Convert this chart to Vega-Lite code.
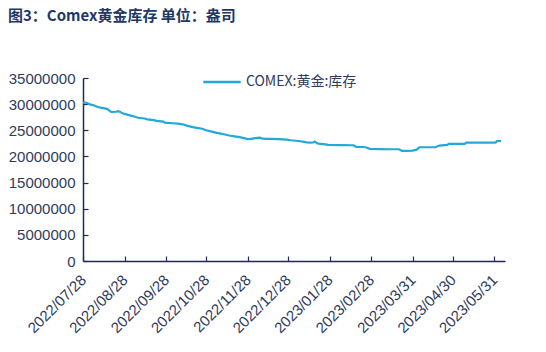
{
  "$schema": "https://vega.github.io/schema/vega-lite/v6.json",
  "width": 422,
  "height": 183,
  "autosize": {"type": "none"},
  "padding": {"left": 83, "top": 78, "right": 41, "bottom": 91},
  "background": "white",
  "title": {
    "text": "图3：Comex黄金库存 单位：盎司",
    "anchor": "start",
    "frame": "group",
    "dx": -75,
    "dy": -34,
    "fontSize": 15,
    "fontWeight": "bold",
    "font": "Noto Sans CJK SC",
    "color": "#1F3864"
  },
  "data": {
    "values": [
      {"date": "2022-07-28", "series": "COMEX:黄金:库存", "value": 30300000},
      {"date": "2022-07-29", "series": "COMEX:黄金:库存", "value": 30350000},
      {"date": "2022-08-01", "series": "COMEX:黄金:库存", "value": 30100000},
      {"date": "2022-08-02", "series": "COMEX:黄金:库存", "value": 29950000},
      {"date": "2022-08-05", "series": "COMEX:黄金:库存", "value": 29800000},
      {"date": "2022-08-08", "series": "COMEX:黄金:库存", "value": 29450000},
      {"date": "2022-08-11", "series": "COMEX:黄金:库存", "value": 29300000},
      {"date": "2022-08-15", "series": "COMEX:黄金:库存", "value": 29100000},
      {"date": "2022-08-16", "series": "COMEX:黄金:库存", "value": 28900000},
      {"date": "2022-08-18", "series": "COMEX:黄金:库存", "value": 28500000},
      {"date": "2022-08-22", "series": "COMEX:黄金:库存", "value": 28550000},
      {"date": "2022-08-23", "series": "COMEX:黄金:库存", "value": 28650000},
      {"date": "2022-08-25", "series": "COMEX:黄金:库存", "value": 28500000},
      {"date": "2022-08-26", "series": "COMEX:黄金:库存", "value": 28300000},
      {"date": "2022-08-30", "series": "COMEX:黄金:库存", "value": 28000000},
      {"date": "2022-09-01", "series": "COMEX:黄金:库存", "value": 27860000},
      {"date": "2022-09-05", "series": "COMEX:黄金:库存", "value": 27600000},
      {"date": "2022-09-07", "series": "COMEX:黄金:库存", "value": 27400000},
      {"date": "2022-09-12", "series": "COMEX:黄金:库存", "value": 27250000},
      {"date": "2022-09-14", "series": "COMEX:黄金:库存", "value": 27100000},
      {"date": "2022-09-19", "series": "COMEX:黄金:库存", "value": 26950000},
      {"date": "2022-09-21", "series": "COMEX:黄金:库存", "value": 26800000},
      {"date": "2022-09-26", "series": "COMEX:黄金:库存", "value": 26650000},
      {"date": "2022-09-27", "series": "COMEX:黄金:库存", "value": 26470000},
      {"date": "2022-10-03", "series": "COMEX:黄金:库存", "value": 26350000},
      {"date": "2022-10-07", "series": "COMEX:黄金:库存", "value": 26280000},
      {"date": "2022-10-11", "series": "COMEX:黄金:库存", "value": 26100000},
      {"date": "2022-10-14", "series": "COMEX:黄金:库存", "value": 25850000},
      {"date": "2022-10-18", "series": "COMEX:黄金:库存", "value": 25600000},
      {"date": "2022-10-21", "series": "COMEX:黄金:库存", "value": 25450000},
      {"date": "2022-10-25", "series": "COMEX:黄金:库存", "value": 25300000},
      {"date": "2022-10-28", "series": "COMEX:黄金:库存", "value": 25000000},
      {"date": "2022-11-02", "series": "COMEX:黄金:库存", "value": 24700000},
      {"date": "2022-11-04", "series": "COMEX:黄金:库存", "value": 24550000},
      {"date": "2022-11-07", "series": "COMEX:黄金:库存", "value": 24400000},
      {"date": "2022-11-11", "series": "COMEX:黄金:库存", "value": 24200000},
      {"date": "2022-11-14", "series": "COMEX:黄金:库存", "value": 24000000},
      {"date": "2022-11-18", "series": "COMEX:黄金:库存", "value": 23850000},
      {"date": "2022-11-22", "series": "COMEX:黄金:库存", "value": 23700000},
      {"date": "2022-11-25", "series": "COMEX:黄金:库存", "value": 23500000},
      {"date": "2022-11-28", "series": "COMEX:黄金:库存", "value": 23300000},
      {"date": "2022-12-01", "series": "COMEX:黄金:库存", "value": 23350000},
      {"date": "2022-12-02", "series": "COMEX:黄金:库存", "value": 23450000},
      {"date": "2022-12-05", "series": "COMEX:黄金:库存", "value": 23550000},
      {"date": "2022-12-07", "series": "COMEX:黄金:库存", "value": 23600000},
      {"date": "2022-12-09", "series": "COMEX:黄金:库存", "value": 23400000},
      {"date": "2022-12-12", "series": "COMEX:黄金:库存", "value": 23350000},
      {"date": "2022-12-16", "series": "COMEX:黄金:库存", "value": 23350000},
      {"date": "2022-12-21", "series": "COMEX:黄金:库存", "value": 23300000},
      {"date": "2022-12-27", "series": "COMEX:黄金:库存", "value": 23200000},
      {"date": "2022-12-30", "series": "COMEX:黄金:库存", "value": 23100000},
      {"date": "2023-01-05", "series": "COMEX:黄金:库存", "value": 22950000},
      {"date": "2023-01-09", "series": "COMEX:黄金:库存", "value": 22800000},
      {"date": "2023-01-11", "series": "COMEX:黄金:库存", "value": 22700000},
      {"date": "2023-01-13", "series": "COMEX:黄金:库存", "value": 22650000},
      {"date": "2023-01-16", "series": "COMEX:黄金:库存", "value": 22680000},
      {"date": "2023-01-17", "series": "COMEX:黄金:库存", "value": 22850000},
      {"date": "2023-01-19", "series": "COMEX:黄金:库存", "value": 22500000},
      {"date": "2023-01-20", "series": "COMEX:黄金:库存", "value": 22450000},
      {"date": "2023-01-25", "series": "COMEX:黄金:库存", "value": 22300000},
      {"date": "2023-01-27", "series": "COMEX:黄金:库存", "value": 22200000},
      {"date": "2023-02-06", "series": "COMEX:黄金:库存", "value": 22150000},
      {"date": "2023-02-13", "series": "COMEX:黄金:库存", "value": 22140000},
      {"date": "2023-02-15", "series": "COMEX:黄金:库存", "value": 22100000},
      {"date": "2023-02-17", "series": "COMEX:黄金:库存", "value": 21800000},
      {"date": "2023-02-21", "series": "COMEX:黄金:库存", "value": 21800000},
      {"date": "2023-02-24", "series": "COMEX:黄金:库存", "value": 21760000},
      {"date": "2023-02-27", "series": "COMEX:黄金:库存", "value": 21450000},
      {"date": "2023-03-06", "series": "COMEX:黄金:库存", "value": 21400000},
      {"date": "2023-03-14", "series": "COMEX:黄金:库存", "value": 21370000},
      {"date": "2023-03-21", "series": "COMEX:黄金:库存", "value": 21370000},
      {"date": "2023-03-23", "series": "COMEX:黄金:库存", "value": 21050000},
      {"date": "2023-03-27", "series": "COMEX:黄金:库存", "value": 21050000},
      {"date": "2023-03-31", "series": "COMEX:黄金:库存", "value": 21100000},
      {"date": "2023-04-03", "series": "COMEX:黄金:库存", "value": 21300000},
      {"date": "2023-04-04", "series": "COMEX:黄金:库存", "value": 21500000},
      {"date": "2023-04-05", "series": "COMEX:黄金:库存", "value": 21760000},
      {"date": "2023-04-11", "series": "COMEX:黄金:库存", "value": 21760000},
      {"date": "2023-04-17", "series": "COMEX:黄金:库存", "value": 21760000},
      {"date": "2023-04-20", "series": "COMEX:黄金:库存", "value": 22080000},
      {"date": "2023-04-26", "series": "COMEX:黄金:库存", "value": 22200000},
      {"date": "2023-04-27", "series": "COMEX:黄金:库存", "value": 22400000},
      {"date": "2023-05-03", "series": "COMEX:黄金:库存", "value": 22400000},
      {"date": "2023-05-09", "series": "COMEX:黄金:库存", "value": 22400000},
      {"date": "2023-05-10", "series": "COMEX:黄金:库存", "value": 22650000},
      {"date": "2023-05-16", "series": "COMEX:黄金:库存", "value": 22650000},
      {"date": "2023-05-23", "series": "COMEX:黄金:库存", "value": 22650000},
      {"date": "2023-06-01", "series": "COMEX:黄金:库存", "value": 22650000},
      {"date": "2023-06-02", "series": "COMEX:黄金:库存", "value": 22950000},
      {"date": "2023-06-05", "series": "COMEX:黄金:库存", "value": 22950000}
    ]
  },
  "mark": {"type": "line", "strokeWidth": 2.2, "interpolate": "linear"},
  "encoding": {
    "x": {
      "field": "date",
      "type": "temporal",
      "scale": {"type": "utc", "domain": [{"year": 2022, "month": 7, "date": 28, "utc": true}, {"year": 2023, "month": 6, "date": 8, "utc": true}], "nice": false},
      "axis": {
        "title": null,
        "values": [
          {"year": 2022, "month": 7, "date": 28, "utc": true},
          {"year": 2022, "month": 8, "date": 28, "utc": true},
          {"year": 2022, "month": 9, "date": 28, "utc": true},
          {"year": 2022, "month": 10, "date": 28, "utc": true},
          {"year": 2022, "month": 11, "date": 28, "utc": true},
          {"year": 2022, "month": 12, "date": 28, "utc": true},
          {"year": 2023, "month": 1, "date": 28, "utc": true},
          {"year": 2023, "month": 2, "date": 28, "utc": true},
          {"year": 2023, "month": 3, "date": 31, "utc": true},
          {"year": 2023, "month": 4, "date": 30, "utc": true},
          {"year": 2023, "month": 5, "date": 31, "utc": true}
        ],
        "format": "%Y/%m/%d",
        "labelAngle": -45,
        "labelAlign": "right",
        "labelBaseline": "middle",
        "labelPadding": 21,
        "labelFontSize": 15,
        "labelFont": "Liberation Sans",
        "labelColor": "#2F3B5C",
        "domainColor": "#1F2A5A",
        "domainWidth": 1.5,
        "tickColor": "#1F2A5A",
        "tickSize": -5,
        "tickWidth": 1.2,
        "grid": false,
        "labelOverlap": false,
        "labelFlush": false
      }
    },
    "y": {
      "field": "value",
      "type": "quantitative",
      "scale": {"domain": [0, 35000000], "nice": false},
      "axis": {
        "title": null,
        "values": [0, 5000000, 10000000, 15000000, 20000000, 25000000, 30000000, 35000000],
        "format": "d",
        "labelFontSize": 15,
        "labelFont": "Liberation Sans",
        "labelColor": "#2F3B5C",
        "labelPadding": 13,
        "domainColor": "#1F2A5A",
        "domainWidth": 1.5,
        "tickColor": "#1F2A5A",
        "tickSize": -5,
        "tickWidth": 1.2,
        "grid": false
      }
    },
    "color": {
      "field": "series",
      "type": "nominal",
      "scale": {"range": ["#22A9D9"]},
      "legend": {
        "title": null,
        "orient": "none",
        "legendX": 119,
        "legendY": -16,
        "symbolType": "stroke",
        "symbolSize": 1400,
        "symbolStrokeWidth": 2.5,
        "labelFontSize": 14,
        "labelFont": "Noto Sans CJK SC",
        "labelColor": "#2F3B5C"
      }
    }
  },
  "config": {
    "view": {"stroke": null}
  }
}
